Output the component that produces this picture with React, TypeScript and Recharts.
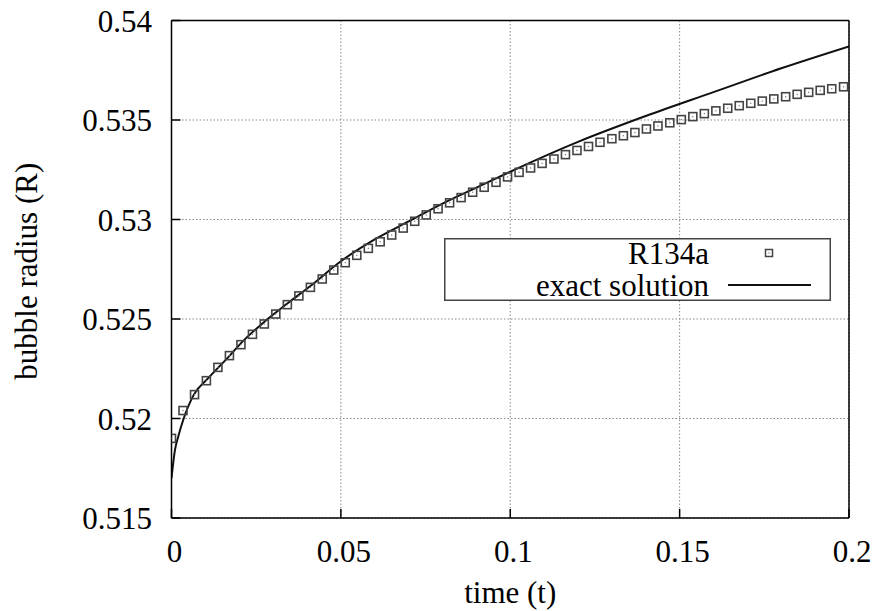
import React from "react";
import {
  ComposedChart,
  Line,
  Scatter,
  XAxis,
  YAxis,
  CartesianGrid,
  Legend,
  Label,
} from "recharts";

// ---- data ----
const r134aTimes = [
  0, 0.0034, 0.0068, 0.0103, 0.0137, 0.0171, 0.0205, 0.0239, 0.0274, 0.0308,
  0.0342, 0.0376, 0.041, 0.0445, 0.0479, 0.0513, 0.0547, 0.0581, 0.0616, 0.065,
  0.0684, 0.0718, 0.0752, 0.0787, 0.0821, 0.0855, 0.0889, 0.0923, 0.0958, 0.0992,
  0.1026, 0.106, 0.1094, 0.1129, 0.1163, 0.1197, 0.1231, 0.1265, 0.13, 0.1334,
  0.1368, 0.1402, 0.1436, 0.1471, 0.1505, 0.1539, 0.1573, 0.1607, 0.1642, 0.1676,
  0.171, 0.1744, 0.1778, 0.1813, 0.1847, 0.1881, 0.1915, 0.1949, 0.1984,
];
const r134aRadius = [
  0.519, 0.5204, 0.5212, 0.5219, 0.52257, 0.52316, 0.52371, 0.52423, 0.52475, 0.52525,
  0.52572, 0.52616, 0.52659, 0.52701, 0.52746, 0.52783, 0.5282, 0.52855, 0.52888, 0.52922,
  0.52957, 0.52991, 0.53023, 0.53054, 0.53084, 0.5311, 0.53137, 0.53162, 0.53187, 0.53214,
  0.53237, 0.53259, 0.53282, 0.53304, 0.53326, 0.53347, 0.53367, 0.53388, 0.53406, 0.53421,
  0.53437, 0.53455, 0.5347, 0.53486, 0.53502, 0.53517, 0.53532, 0.53546, 0.53559, 0.53572,
  0.53584, 0.53595, 0.53606, 0.53617, 0.53629, 0.53639, 0.53649, 0.53657, 0.53667,
];

const exactTimes = [
  0, 0.001, 0.002, 0.0036, 0.0066, 0.0107, 0.0174, 0.0206, 0.0277, 0.0344, 0.0413,
  0.05, 0.06, 0.07, 0.08, 0.09, 0.1, 0.12, 0.14, 0.16, 0.18, 0.2,
];
const exactRadius = [
  0.517, 0.5184, 0.5191, 0.52, 0.5212, 0.522, 0.5232, 0.5238, 0.5249, 0.5258, 0.5267,
  0.5279, 0.529, 0.5299, 0.5308, 0.5316, 0.5324, 0.5339, 0.5352, 0.5364, 0.5376, 0.5387,
];

const xTicks = [0, 0.05, 0.1, 0.15, 0.2];
const yTicks = [0.515, 0.52, 0.525, 0.53, 0.535, 0.54];

const seriesNames = ["R134a", "exact solution"];
const axisTitles = { x: "time (t)", y: "bubble radius (R)" };

const r134aData = r134aTimes.map((t, i) => ({ t, r: r134aRadius[i] }));
const exactData = exactTimes.map((t, i) => ({ t, r: exactRadius[i] }));

const FONT = '"Liberation Serif", "DejaVu Serif", serif';
const FS = 31;
const textStyle = { fontFamily: FONT, fontSize: FS, fill: "#000" };

const SquareMarker = (props: any) => {
  const { cx, cy } = props;
  if (cx == null || cy == null) return null;
  return (
    <g>
      <rect x={cx - 4} y={cy - 4} width={8} height={8} fill="none" stroke="#444" strokeWidth={1.6} />
      <rect x={cx - 0.6} y={cy - 0.6} width={1.2} height={1.2} fill="#777" />
    </g>
  );
};

const LegendBox = () => (
  <svg width={387} height={63} style={{ display: "block", background: "#fff", overflow: "visible" }}>
    <rect x={0.75} y={0.75} width={385.5} height={61.5} fill="#fff" stroke="#444" strokeWidth={1.5} />
    <text x={265} y={26} textAnchor="end" style={textStyle}>
      {seriesNames[0]}
    </text>
    <text x={265} y={58} textAnchor="end" style={textStyle}>
      {seriesNames[1]}
    </text>
    <rect x={321.5} y={11.5} width={7} height={7} fill="none" stroke="#444" strokeWidth={1.5} />
    <rect x={324.4} y={14.4} width={1.2} height={1.2} fill="#777" />
    <line x1={284} y1={47} x2={367} y2={47} stroke="#111" strokeWidth={2} />
  </svg>
);

export default function App() {
  return (
    <div
      style={{
        position: "absolute",
        left: 0,
        top: 0,
        width: 877,
        height: 611,
        background: "#fff",
        fontFamily: FONT,
      }}
    >
      <ComposedChart
        width={877}
        height={611}
        margin={{ top: 0, right: 0, bottom: 0, left: 0 }}
        style={{ fontFamily: FONT }}
      >
        <CartesianGrid
          stroke="#888"
          strokeDasharray="1.5 2"
          strokeWidth={1}
          horizontalValues={yTicks}
          verticalValues={xTicks}
        />
        <XAxis
          type="number"
          dataKey="t"
          domain={[0, 0.2]}
          ticks={xTicks}
          interval={0}
          height={93}
          stroke="#000"
          strokeWidth={1.5}
          tickSize={-9}
          tickMargin={31}
          tick={{ ...textStyle, style: { fontFamily: FONT }, dx: 3 }}
          allowDataOverflow
        >
          <Label
            value={axisTitles.x}
            position="insideBottom"
            offset={8}
            style={textStyle}
          />
        </XAxis>
        <XAxis
          xAxisId="top"
          orientation="top"
          type="number"
          domain={[0, 0.2]}
          ticks={xTicks}
          interval={0}
          height={20.5}
          stroke="#000"
          strokeWidth={1.5}
          tickSize={-9}
          tick={false}
          allowDataOverflow
        />
        <YAxis
          type="number"
          domain={[0.515, 0.54]}
          ticks={yTicks}
          interval={0}
          width={171.5}
          stroke="#000"
          strokeWidth={1.5}
          tickSize={-9}
          tickMargin={28.5}
          tick={{ ...textStyle, style: { fontFamily: FONT } }}
          allowDataOverflow
        >
          <Label
            content={(p: any) => {
              const vb = p.viewBox || { x: 0, y: 0, width: 0, height: 0 };
              const cx = vb.x + 37;
              const cy = vb.y + vb.height / 2 + 2;
              return (
                <text
                  x={cx}
                  y={cy}
                  transform={`rotate(-90, ${cx}, ${cy})`}
                  textAnchor="middle"
                  style={textStyle}
                >
                  {axisTitles.y}
                </text>
              );
            }}
          />
        </YAxis>
        <YAxis
          yAxisId="right"
          orientation="right"
          type="number"
          domain={[0.515, 0.54]}
          ticks={yTicks}
          interval={0}
          width={28}
          stroke="#000"
          strokeWidth={1.5}
          tickSize={-9}
          tick={false}
          allowDataOverflow
        />
        <Scatter
          name={seriesNames[0]}
          data={r134aData}
          dataKey="r"
          shape={SquareMarker}
          isAnimationActive={false}
        />
        <Line
          name={seriesNames[1]}
          data={exactData}
          dataKey="r"
          type="monotone"
          stroke="#111"
          strokeWidth={2}
          dot={false}
          activeDot={false}
          isAnimationActive={false}
        />
        <Legend
          layout="horizontal"
          verticalAlign="middle"
          align="center"
          content={() => <LegendBox />}
          wrapperStyle={{ position: "absolute", left: 444, top: 238, width: 387, height: 63, margin: 0, padding: 0 }}
        />
      </ComposedChart>
    </div>
  );
}
